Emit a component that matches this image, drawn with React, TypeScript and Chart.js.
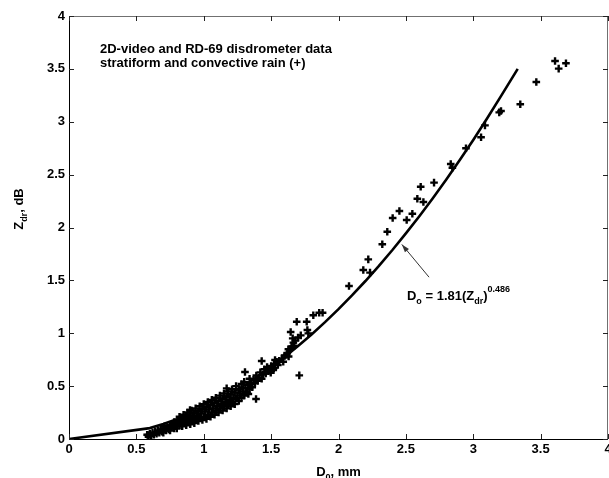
import React, { useEffect, useRef } from "react";
import { Chart, registerables } from "chart.js";

Chart.register(...registerables);

const FONT = "'Liberation Sans', Arial, Helvetica, sans-serif";

// Scatter of disdrometer data: D0 (mm) vs Zdr (dB)
const pointsD0 = [
  0.58, 0.59, 0.60, 0.61, 0.62, 0.63, 0.64, 0.65, 0.66, 0.67, 0.68, 0.69, 0.70, 0.70, 0.71, 0.72, 0.73, 0.74,
  0.75, 0.75, 0.76, 0.77, 0.78, 0.78, 0.79, 0.80, 0.80, 0.81, 0.82, 0.82, 0.83, 0.84, 0.84, 0.85, 0.85, 0.86,
  0.87, 0.87, 0.88, 0.88, 0.89, 0.90, 0.90, 0.91, 0.91, 0.92, 0.93, 0.93, 0.94, 0.94, 0.95, 0.96, 0.96, 0.97,
  0.97, 0.98, 0.99, 0.99, 1.00, 1.00, 1.01, 1.02, 1.02, 1.03, 1.03, 1.04, 1.05, 1.05, 1.06, 1.06, 1.07, 1.08,
  1.08, 1.09, 1.09, 1.10, 1.11, 1.11, 1.12, 1.12, 1.13, 1.14, 1.14, 1.15, 1.15, 1.16, 1.17, 1.17, 1.18, 1.18,
  1.19, 1.20, 1.20, 1.21, 1.21, 1.22, 1.23, 1.23, 1.24, 1.24, 1.25, 1.26, 1.26, 1.27, 1.28, 1.28, 1.29, 1.30,
  1.30, 1.31, 1.32, 1.33, 1.34, 1.34, 1.35, 1.36, 1.37, 1.38, 1.39, 1.40, 1.41, 1.42, 1.43, 1.44, 1.45, 1.46,
  1.47, 1.48, 1.50, 1.52, 1.53, 1.55, 1.56, 1.58, 1.59, 1.60, 1.62, 1.63, 1.64, 1.67, 1.68, 1.70, 1.72,
  0.589, 0.898, 1.170, 1.306, 1.331, 1.388, 1.430, 1.497, 1.516, 1.529, 1.541, 1.615, 1.628, 1.652, 1.665,
  1.660, 1.645, 1.709, 1.776, 1.769, 1.690, 1.764, 1.813, 1.857, 1.882,
  2.078, 2.184, 2.234, 2.221, 2.325, 2.362, 2.402, 2.452, 2.506, 2.548, 2.585, 2.630, 2.610, 2.709, 2.833,
  2.845, 2.946, 3.058, 3.087, 3.193, 3.206, 3.349, 3.468, 3.607, 3.634, 3.688,
];
const pointsZdr = [
  0.04, 0.02, 0.05, 0.03, 0.06, 0.04, 0.07, 0.05, 0.08, 0.06, 0.09, 0.07, 0.10, 0.06, 0.12, 0.08, 0.11, 0.09,
  0.13, 0.08, 0.11, 0.14, 0.10, 0.16, 0.12, 0.15, 0.10, 0.18, 0.13, 0.21, 0.16, 0.12, 0.19, 0.15, 0.23, 0.18,
  0.13, 0.21, 0.16, 0.25, 0.19, 0.14, 0.22, 0.17, 0.27, 0.20, 0.15, 0.24, 0.18, 0.29, 0.22, 0.17, 0.26, 0.20,
  0.31, 0.24, 0.18, 0.28, 0.21, 0.33, 0.26, 0.19, 0.30, 0.23, 0.35, 0.28, 0.21, 0.32, 0.25, 0.37, 0.29, 0.23,
  0.34, 0.27, 0.39, 0.31, 0.25, 0.36, 0.29, 0.41, 0.33, 0.27, 0.38, 0.31, 0.43, 0.35, 0.29, 0.40, 0.33, 0.45,
  0.37, 0.31, 0.42, 0.35, 0.47, 0.39, 0.33, 0.44, 0.38, 0.50, 0.41, 0.36, 0.47, 0.43, 0.39, 0.52, 0.45, 0.41,
  0.54, 0.48, 0.44, 0.51, 0.47, 0.57, 0.52, 0.49, 0.56, 0.53, 0.60, 0.55, 0.58, 0.63, 0.57, 0.61, 0.66, 0.62,
  0.68, 0.64, 0.69, 0.67, 0.71, 0.70, 0.74, 0.76, 0.73, 0.79, 0.81, 0.78, 0.85, 0.88, 0.93, 0.96, 0.98,
  0.038, 0.274, 0.479, 0.634, 0.426, 0.378, 0.738, 0.627, 0.652, 0.747, 0.731, 0.794, 0.848, 0.873, 0.911,
  0.952, 1.012, 0.602, 0.999, 1.031, 1.109, 1.109, 1.170, 1.194, 1.194,
  1.447, 1.598, 1.573, 1.699, 1.841, 1.960, 2.090, 2.156, 2.071, 2.130, 2.272, 2.241, 2.386, 2.424, 2.600,
  2.565, 2.749, 2.853, 2.966, 3.089, 3.102, 3.165, 3.376, 3.574, 3.502, 3.553,
];

// Fitted relation D0 = 1.81 (Zdr)^0.486, as drawn
const fitD0 = [0, 0.6, 0.7, 0.8, 0.9, 1.0, 1.1, 1.2, 1.3, 1.4, 1.5, 1.6, 1.7, 1.8, 1.9, 2.0, 2.1, 2.2, 2.3, 2.4, 2.5, 2.6, 2.7, 2.8, 2.9, 3.0, 3.1, 3.2, 3.33];
const fitZdr = [0, 0.103, 0.142, 0.186, 0.238, 0.295, 0.359, 0.429, 0.506, 0.589, 0.679, 0.776, 0.879, 0.989, 1.105, 1.228, 1.358, 1.494, 1.637, 1.787, 1.944, 2.107, 2.277, 2.454, 2.638, 2.828, 3.026, 3.230, 3.50];

const axisMin = 0;
const axisMax = 4;
const tickStep = 0.5;

const noteLines = ["2D-video and RD-69 disdrometer data", "stratiform and convective rain (+)"];
const noteAnchor = [0.23, 3.65];
const noteLineGap = 0.132;
const arrowTip = [2.47, 1.84];
const arrowTail = [2.672, 1.53];
const formulaAnchor = [2.508, 1.314];

type Part = { t: string; kind: "n" | "sub" | "sup" };

function drawParts(ctx: CanvasRenderingContext2D, parts: Part[], x: number, y: number, size: number) {
  let cx = x;
  for (const p of parts) {
    const s = p.kind === "n" ? size : Math.round(size * 0.7);
    ctx.font = `bold ${s}px ${FONT}`;
    const dy = p.kind === "sub" ? size * 0.32 : p.kind === "sup" ? -size * 0.6 : 0;
    ctx.fillText(p.t, cx, y + dy);
    cx += ctx.measureText(p.t).width;
  }
  return cx - x;
}

function measureParts(ctx: CanvasRenderingContext2D, parts: Part[], size: number) {
  let w = 0;
  for (const p of parts) {
    const s = p.kind === "n" ? size : Math.round(size * 0.7);
    ctx.font = `bold ${s}px ${FONT}`;
    w += ctx.measureText(p.t).width;
  }
  return w;
}

function zeroPad(s: any) {
  s.paddingLeft = 0;
  s.paddingRight = 0;
  s.paddingTop = 0;
  s.paddingBottom = 0;
}

export default function App() {
  const ref = useRef<HTMLCanvasElement>(null);

  useEffect(() => {
    const canvas = ref.current;
    if (!canvas) return;

    const overlay = {
      id: "overlay",
      afterDraw(chart: any) {
        const { ctx, chartArea: a, scales } = chart;
        const xs = scales.x;
        const ys = scales.y;
        ctx.save();
        // frame
        ctx.lineWidth = 1;
        ctx.strokeStyle = "#000";
        ctx.beginPath();
        ctx.moveTo(a.left + 0.5, a.top);
        ctx.lineTo(a.left + 0.5, a.bottom + 0.5);
        ctx.lineTo(a.right, a.bottom + 0.5);
        ctx.stroke();
        ctx.strokeStyle = "#707070";
        ctx.beginPath();
        ctx.moveTo(a.left, a.top + 0.5);
        ctx.lineTo(a.right - 0.5, a.top + 0.5);
        ctx.lineTo(a.right - 0.5, a.bottom);
        ctx.stroke();
        // inward tick marks
        const tl = 5;
        ctx.strokeStyle = "#222";
        ctx.beginPath();
        xs.ticks.forEach((t: any) => {
          const px = Math.round(xs.getPixelForValue(t.value)) + 0.5;
          ctx.moveTo(px, a.bottom);
          ctx.lineTo(px, a.bottom - tl);
          ctx.moveTo(px, a.top);
          ctx.lineTo(px, a.top + tl);
        });
        ys.ticks.forEach((t: any) => {
          const py = Math.round(ys.getPixelForValue(t.value)) + 0.5;
          ctx.moveTo(a.left, py);
          ctx.lineTo(a.left + tl, py);
          ctx.moveTo(a.right, py);
          ctx.lineTo(a.right - tl, py);
        });
        ctx.stroke();

        ctx.fillStyle = "#000";
        ctx.textBaseline = "alphabetic";
        ctx.textAlign = "left";

        // note text
        ctx.font = `bold 13px ${FONT}`;
        noteLines.forEach((line, i) => {
          ctx.fillText(line, xs.getPixelForValue(noteAnchor[0]), ys.getPixelForValue(noteAnchor[1] - i * noteLineGap));
        });

        // arrow
        const tx = xs.getPixelForValue(arrowTip[0]);
        const ty = ys.getPixelForValue(arrowTip[1]);
        const sx = xs.getPixelForValue(arrowTail[0]);
        const sy = ys.getPixelForValue(arrowTail[1]);
        ctx.strokeStyle = "#333";
        ctx.lineWidth = 1;
        ctx.beginPath();
        ctx.moveTo(sx, sy);
        ctx.lineTo(tx, ty);
        ctx.stroke();
        const ang = Math.atan2(ty - sy, tx - sx);
        const hl = 8;
        const hw = 2.6;
        ctx.beginPath();
        ctx.moveTo(tx, ty);
        ctx.lineTo(tx - hl * Math.cos(ang) + hw * Math.sin(ang), ty - hl * Math.sin(ang) - hw * Math.cos(ang));
        ctx.lineTo(tx - hl * Math.cos(ang) - hw * Math.sin(ang), ty - hl * Math.sin(ang) + hw * Math.cos(ang));
        ctx.closePath();
        ctx.fillStyle = "#333";
        ctx.fill();

        // formula
        ctx.fillStyle = "#000";
        drawParts(
          ctx,
          [
            { t: "D", kind: "n" },
            { t: "o", kind: "sub" },
            { t: " = 1.81(Z", kind: "n" },
            { t: "dr", kind: "sub" },
            { t: ")", kind: "n" },
            { t: "0.486", kind: "sup" },
          ],
          xs.getPixelForValue(formulaAnchor[0]),
          ys.getPixelForValue(formulaAnchor[1]),
          13
        );

        // x axis title
        const xParts: Part[] = [
          { t: "D", kind: "n" },
          { t: "0", kind: "sub" },
          { t: ", mm", kind: "n" },
        ];
        const xw = measureParts(ctx, xParts, 13);
        drawParts(ctx, xParts, (a.left + a.right) / 2 - xw / 2, 476, 13);

        // y axis title (rotated)
        const yParts: Part[] = [
          { t: "Z", kind: "n" },
          { t: "dr", kind: "sub" },
          { t: ", dB", kind: "n" },
        ];
        const yw = measureParts(ctx, yParts, 13);
        ctx.save();
        ctx.translate(23, 209);
        ctx.rotate(-Math.PI / 2);
        drawParts(ctx, yParts, -yw / 2, 0, 13);
        ctx.restore();

        ctx.restore();
      },
    };

    const fmt = (v: any) => String(Number(v));

    const chart = new Chart(canvas, {
      type: "scatter",
      data: {
        datasets: [
          {
            label: "data",
            data: pointsD0.map((x, i) => ({ x, y: pointsZdr[i] })),
            pointStyle: "cross",
            pointRadius: 3.8,
            pointBorderWidth: 2.4,
            borderColor: "#000",
            backgroundColor: "#000",
            showLine: false,
          },
          {
            label: "fit",
            data: fitD0.map((x, i) => ({ x, y: fitZdr[i] })),
            showLine: true,
            pointRadius: 0,
            borderColor: "#000",
            borderWidth: 2.6,
            tension: 0,
            fill: false,
          },
        ],
      },
      plugins: [overlay],
      options: {
        responsive: false,
        animation: false,
        devicePixelRatio: 1,
        layout: { autoPadding: false, padding: { top: 16, right: 1, left: 0, bottom: 0 } },
        plugins: { legend: { display: false }, tooltip: { enabled: false } },
        scales: {
          x: {
            type: "linear",
            min: axisMin,
            max: axisMax,
            grid: { display: false, drawTicks: false },
            border: { display: false },
            ticks: {
              stepSize: tickStep,
              padding: 3,
              color: "#000",
              maxRotation: 0,
              autoSkip: false,
              callback: fmt,
              font: { family: FONT, size: 13, weight: "bold" },
            },
            afterFit: (s: any) => {
              s.height = 39;
              zeroPad(s);
            },
          },
          y: {
            type: "linear",
            min: axisMin,
            max: axisMax,
            grid: { display: false, drawTicks: false },
            border: { display: false },
            ticks: {
              stepSize: tickStep,
              padding: 4,
              color: "#000",
              autoSkip: false,
              callback: fmt,
              font: { family: FONT, size: 13, weight: "bold" },
            },
            afterFit: (s: any) => {
              s.width = 69;
              zeroPad(s);
            },
          },
        },
      } as any,
    });

    return () => chart.destroy();
  }, []);

  return (
    <div style={{ position: "fixed", left: 0, top: 0, width: 609, height: 478, background: "#fff" }}>
      <canvas ref={ref} width={609} height={478} style={{ display: "block" }} />
    </div>
  );
}
